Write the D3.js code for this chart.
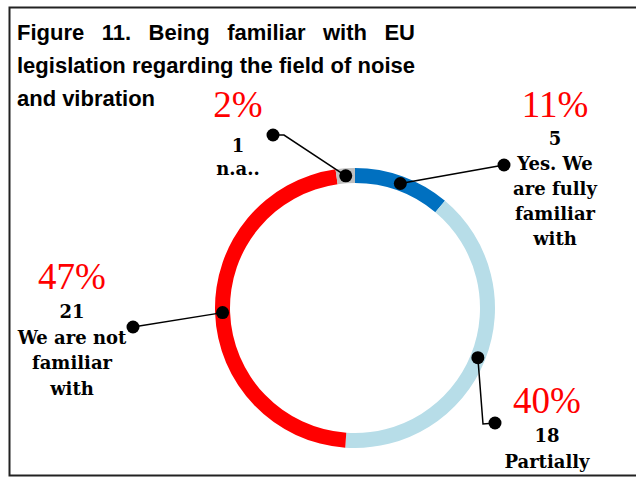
<!DOCTYPE html>
<html><head><meta charset="utf-8">
<script src="https://cdn.jsdelivr.net/npm/d3@7"></script>
<style>html,body{margin:0;padding:0;background:#fff;}</style>
</head><body>
<svg id="chart" width="636" height="484"></svg>
<script>
// Data
const categories = ["Yes. We are fully familiar with", "Partially", "We are not familiar with", "n.a.."];
const counts = [5, 18, 21, 1];
const percentLabels = ["11%", "40%", "47%", "2%"];
const colors = ["#0070C0", "#B7DDE8", "#FF0000", "#BFBFBF"];
const labelLines = [["5", "Yes. We", "are fully", "familiar", "with"], ["18", "Partially"], ["21", "We are not", "familiar", "with"], ["1", "n.a.."]];
const titleLines = ["Figure 11. Being familiar with EU", "legislation regarding the field of noise", "and vibration"];

const svg = d3.select("#chart");
svg.append("rect").attr("x", 9.5).attr("y", 7.5).attr("width", 640).attr("height", 468)
  .attr("fill", "none").attr("stroke", "#222").attr("stroke-width", 2);

// Title (justified lines)
const tX0 = 17, tX1 = 415;
const titleY = [40, 73, 106];
titleLines.forEach((line, i) => {
  const words = line.split(" ");
  const g = svg.append("g");
  const nodes = words.map(w => g.append("text").text(w)
    .attr("font-family", "Liberation Sans, Arial, sans-serif").attr("font-weight", "bold")
    .attr("font-size", 22).attr("fill", "#000").attr("y", titleY[i]));
  const widths = nodes.map(n => n.node().getComputedTextLength());
  const total = d3.sum(widths);
  let gap = (i < 2) ? (tX1 - tX0 - total) / (words.length - 1) : 6;
  let x = tX0;
  nodes.forEach((n, k) => { n.attr("x", x); x += widths[k] + gap; });
});

// Donut
const cx = 355, cy = 308;
const pie = d3.pie().sort(null).value(d => d)(counts);
const arc = d3.arc().innerRadius(125).outerRadius(140);
const g = svg.append("g").attr("transform", `translate(${cx},${cy})`);
g.selectAll("path").data(pie).join("path").attr("d", arc).attr("fill", (d, i) => colors[i]);

const midR = 132.5;
const onRing = d => {
  const a = (d.startAngle + d.endAngle) / 2;
  return [cx + midR * Math.sin(a), cy - midR * Math.cos(a)];
};
// leader lines: end-points for each label (Yes, Partially, No, n.a.)
const leaderEnds = [[[504, 165]], [[483, 424], [495, 423]], [[133, 327]], [[284, 135], [273, 135]]];
pie.forEach((d, i) => {
  const p0 = onRing(d);
  const pts = [p0].concat(leaderEnds[i]);
  svg.append("path").attr("d", d3.line()(pts)).attr("fill", "none").attr("stroke", "#000").attr("stroke-width", 1.5);
  svg.append("circle").attr("cx", p0[0]).attr("cy", p0[1]).attr("r", 6.5).attr("fill", "#000");
  const e = pts[pts.length - 1];
  svg.append("circle").attr("cx", e[0]).attr("cy", e[1]).attr("r", 6.5).attr("fill", "#000");
});

// labels
const labelPos = [
  {x: 555, pct: 117, first: 145, step: 25},
  {x: 547, pct: 413, first: 442, step: 26},
  {x: 72, pct: 289, first: 318, step: 25.5},
  {x: 238, pct: 117, first: 152, step: 23}
];
labelPos.forEach((p, i) => {
  svg.append("text").attr("x", p.x).attr("y", p.pct).attr("text-anchor", "middle")
    .attr("font-family", "Liberation Serif, Times New Roman, serif").attr("font-size", 37)
    .attr("fill", "#FF0000").text(percentLabels[i]);
  labelLines[i].forEach((t, k) => {
    svg.append("text").attr("x", p.x).attr("y", p.first + k * p.step).attr("text-anchor", "middle")
      .attr("font-family", "DejaVu Serif, serif").attr("font-size", 18).attr("font-weight", "bold")
      .attr("fill", "#000").text(t);
  });
});
</script>
</body></html>
